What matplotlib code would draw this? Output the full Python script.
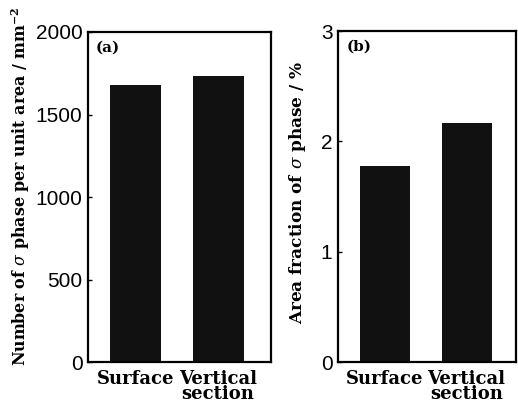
import matplotlib
matplotlib.use("Agg")
import matplotlib.pyplot as plt

# data
categories = ["Surface", "Vertical\nsection"]
number_density = [1678, 1732]      # mm^-2
area_fraction = [1.78, 2.17]       # %

serif = "DejaVu Serif"
sans = "Liberation Sans"
plt.rcParams["mathtext.fontset"] = "dejavuserif"

fig = plt.figure(figsize=(5.18, 4.05), dpi=100)
ax_a = fig.add_axes([0.170, 0.106, 0.353, 0.815])
ax_b = fig.add_axes([0.6525, 0.106, 0.343, 0.817])

x = [0, 1]

def style(ax, yticks, ylim, xlim):
    ax.set_ylim(*ylim)
    ax.set_xlim(*xlim)
    ax.set_yticks(yticks)
    ax.set_yticklabels([str(t) for t in yticks], fontfamily=sans, fontsize=15)
    ax.set_xticks(x)
    ax.set_xticklabels(categories, fontfamily=serif, fontweight="bold",
                       fontsize=13, linespacing=0.75)
    ax.tick_params(axis="y", direction="in", length=3, width=1, pad=4)
    ax.tick_params(axis="x", length=0, pad=6)
    for s in ax.spines.values():
        s.set_linewidth(1.6)

# (a) number of sigma phase per unit area
ax_a.bar(x, number_density, width=0.62, color="#111111")
style(ax_a, [0, 500, 1000, 1500, 2000], (0, 2000), (-0.576, 1.64))
ax_a.set_ylabel("Number of $\\mathit{\\sigma}$ phase per unit area / mm$^{\\mathbf{-2}}$",
                fontfamily=serif, fontweight="bold", fontsize=11.4)
ax_a.yaxis.set_label_coords(-0.306, 0.533)
ax_a.text(0.04, 0.975, "(a)", transform=ax_a.transAxes, ha="left", va="top",
          fontfamily=serif, fontweight="bold", fontsize=11)

# (b) area fraction of sigma phase
ax_b.bar(x, area_fraction, width=0.61, color="#111111")
style(ax_b, [0, 1, 2, 3], (0, 3), (-0.57, 1.6))
ax_b.set_ylabel("Area fraction of $\\mathit{\\sigma}$ phase / %",
                fontfamily=serif, fontweight="bold", fontsize=12.2)
ax_b.yaxis.set_label_coords(-0.168, 0.512)
ax_b.text(0.05, 0.975, "(b)", transform=ax_b.transAxes, ha="left", va="top",
          fontfamily=serif, fontweight="bold", fontsize=11)

fig.savefig("out.png", dpi=100)
